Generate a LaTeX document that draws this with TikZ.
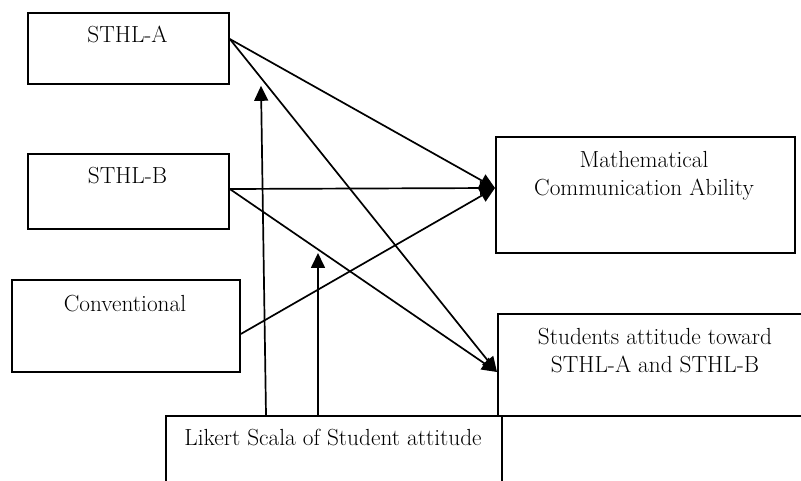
\documentclass[tikz,border=0pt]{standalone}
\usetikzlibrary{arrows.meta}
\begin{document}
\begin{tikzpicture}[x=1pt,y=-1pt,
  boxnode/.style={draw,line width=1.8pt,inner sep=0pt,anchor=north west},
  txt/.style={inner sep=0pt,align=center,font=\fontsize{23.3}{28.5}\selectfont,anchor=north},
  conn/.style={line width=1.7pt},
  arr/.style={conn,-{Triangle[length=15pt,width=14pt]}}]
\useasboundingbox (0,0) rectangle (801,481);
\clip (0,0) rectangle (801,481);
% boxes
\node[boxnode,minimum width=201pt,minimum height=71pt] (A) at (27,12) {};
\node[boxnode,minimum width=201pt,minimum height=75pt] (B) at (27,153) {};
\node[boxnode,minimum width=228pt,minimum height=92pt] (C) at (11,279) {};
\node[boxnode,minimum width=299pt,minimum height=116pt] (M) at (495,136) {};
\node[boxnode,minimum width=316pt,minimum height=102pt] (S) at (497,313) {};
\node[boxnode,minimum width=336pt,minimum height=90pt] (L) at (165,415) {};
% texts
\node[txt] (At) at (127.5,26) {STHL-A};
\node[txt] (Bt) at (127.5,167) {STHL-B};
\node[txt] (Ct) at (125,295) {Conventional};
\node[txt] (Mt) at (644,151) {Mathematical\\Communication Ability};
\node[txt] (St) at (655,328) {Students attitude toward\\STHL-A and STHL-B};
\node[txt] (Lt) at (333,429) {Likert Scala of Student attitude};
% connection points
\coordinate (Aout) at ([yshift=-27pt]A.north east);
\coordinate (Bout) at ([yshift=-36pt]B.north east);
\coordinate (Cout) at ([yshift=-55pt]C.north east);
\coordinate (Min) at ([yshift=-52pt]M.north west);
\coordinate (Sin) at ([yshift=-59pt]S.north west);
\coordinate (L1) at ([xshift=101pt]L.north west);
\coordinate (L2) at ([xshift=153pt]L.north west);
\coordinate (Ain) at ([xshift=234pt,yshift=-1pt]A.south west);
\coordinate (P2) at (318,253);
% connectors
\draw[arr] (Aout) -- (Min);
\draw[arr] (Aout) -- (Sin);
\draw[arr] (Bout) -- (Min);
\draw[arr] (Bout) -- (Sin);
\draw[arr] (Cout) -- (Min);
\draw[arr] (L1) -- (Ain);
\draw[arr] (L2) -- (P2);
\end{tikzpicture}
\end{document}
